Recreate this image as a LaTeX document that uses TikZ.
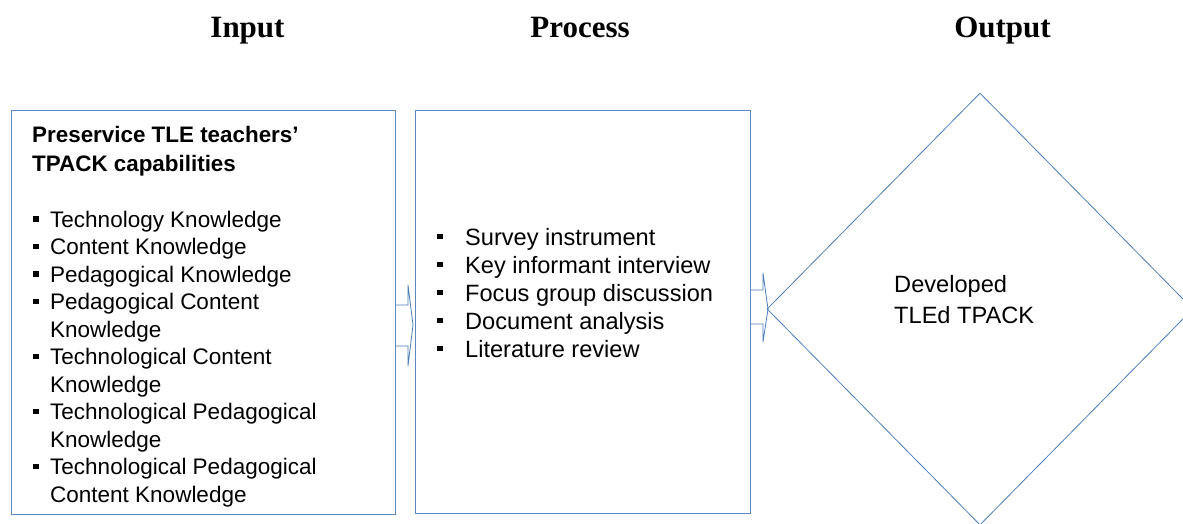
\documentclass[tikz,border=0pt]{standalone}
\usepackage{fontspec}
\setmainfont{Liberation Serif}
\newfontfamily\arialf{Liberation Sans}
\usetikzlibrary{shapes.geometric}
\definecolor{boxblue}{HTML}{5B87C5}
\definecolor{lineblue}{HTML}{4A7EBB}
\begin{document}
\begin{tikzpicture}[x=1pt,y=-1pt,
  title/.style={font=\fontsize{31}{36}\selectfont\bfseries, anchor=base, inner sep=0pt},
  lline/.style={font=\arialf\fontsize{22.5}{27}\selectfont, anchor=base west, inner sep=0pt},
  hline/.style={font=\arialf\bfseries\fontsize{22.4}{27}\selectfont, anchor=base west, inner sep=0pt},
  mline/.style={font=\arialf\fontsize{23.6}{28}\selectfont, anchor=base west, inner sep=0pt},
  frame/.style={draw=boxblue, line width=1.1pt, fill=white, inner sep=0pt, anchor=north west},
  blockarrow/.style={draw=lineblue, line width=0.8pt, fill=white, line join=miter},
  bulletsq/.style={fill=black, minimum size=5.5pt, inner sep=0pt, anchor=south west}
]
\useasboundingbox (0,0) rectangle (1183,523);

% titles
\node[title] (tin)  at (247.5,37) {Input};
\node[title] (tpro) at (580,37) {Process};
\node[title] (tout) at (1002.5,37) {Output};

% block arrows (drawn first, partly hidden by the boxes)
\draw[blockarrow] (380,305) -- (408,305) -- (408,285) -- (413,325) -- (408,366) -- (408,346) -- (380,346) -- cycle;
\draw[blockarrow] (735,290) -- (763,290) -- (763,273) -- (768,309) -- (763,342) -- (763,324) -- (735,324) -- cycle;

% boxes
\node[frame, minimum width=384pt, minimum height=404pt] (inbox) at (11,110) {};
\node[frame, minimum width=335pt, minimum height=403pt] (midbox) at (415,110) {};
\node[diamond, draw=lineblue, line width=0.8pt, minimum width=426pt, minimum height=432pt, inner sep=0pt, aspect=1] (outd) at (980,309) {};

% input box text
\node[hline] (h1) at (32,142) {Preservice TLE teachers’};
\node[hline] (h2) at (32,171) {TPACK capabilities};

\foreach \yy/\tx/\bul [count=\i] in {
  227/Technology Knowledge/1,
  254.5/Content Knowledge/1,
  282/Pedagogical Knowledge/1,
  309.5/Pedagogical Content/1,
  337/Knowledge/0,
  364.5/Technological Content/1,
  392/Knowledge/0,
  419.5/Technological Pedagogical/1,
  447/Knowledge/0,
  474.5/Technological Pedagogical/1,
  502/Content Knowledge/0}{
  \node[lline] (L\i) at (50,\yy) {\tx};
  \ifnum\bul=1 \node[bulletsq] (LB\i) at (33,\yy-5.3) {};\fi
}

% process box text
\foreach \yy/\tx [count=\i] in {
  245/Survey instrument,
  273/Key informant interview,
  301/Focus group discussion,
  329/Document analysis,
  357/Literature review}{
  \node[mline] (M\i) at (465,\yy) {\tx};
  \node[bulletsq] (MB\i) at (437,\yy-5.5) {};
}

% output text
\node[mline] (o1) at (894,292) {Developed};
\node[mline] (o2) at (894,323) {TLEd TPACK};
\end{tikzpicture}
\end{document}
